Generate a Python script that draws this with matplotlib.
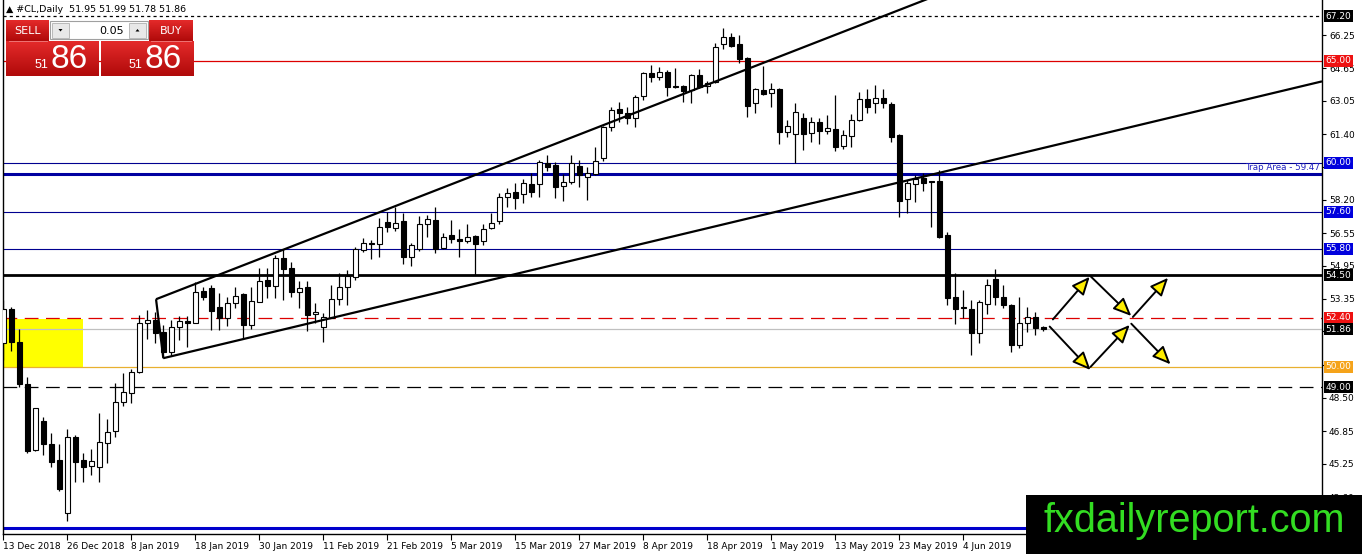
import numpy as np
import matplotlib.pyplot as plt
import matplotlib.transforms as mtransforms
from matplotlib.patches import Rectangle, FancyArrowPatch, Polygon
from matplotlib.colors import LinearSegmentedColormap

# Daily candles (bar index 0 = 13 Dec 2018)
opens = [51.18, 52.83, 51.21, 49.15, 45.93, 47.35, 46.21, 45.44, 42.83, 46.59,
         45.44, 45.16, 45.08, 46.26, 46.88, 48.27, 48.71, 49.74, 52.14, 52.30,
         51.70, 50.75, 51.98, 52.27, 52.17, 53.73, 53.86, 52.93, 52.42, 53.15,
         53.58, 52.06, 53.20, 54.26, 53.99, 55.33, 54.84, 53.69, 53.91, 52.58,
         51.95, 52.39, 53.32, 53.94, 54.43, 55.74, 56.06, 56.03, 57.12, 56.80,
         57.16, 55.41, 55.77, 57.00, 57.21, 55.82, 56.47, 56.27, 56.19, 56.42,
         56.18, 56.83, 57.16, 58.35, 58.56, 58.47, 58.96, 58.97, 59.99, 59.90,
         58.87, 59.08, 59.87, 59.30, 59.46, 60.23, 61.78, 62.63, 62.47, 62.19,
         63.28, 64.40, 64.20, 64.48, 63.77, 63.77, 63.58, 64.31, 63.77, 63.99,
         65.83, 66.16, 65.83, 65.13, 62.93, 63.58, 63.42, 63.61, 61.53, 61.41,
         62.19, 61.46, 62.02, 61.58, 61.65, 60.83, 61.32, 62.11, 63.12, 62.93,
         63.17, 62.89, 61.37, 58.22, 58.97, 59.25, 59.10, 59.12, 56.47, 53.45,
         52.96, 52.83, 51.65, 53.09, 54.30, 53.45, 53.04, 51.08, 52.17, 52.47,
         51.95]
highs = [53.28, 52.96, 51.85, 49.52, 48.00, 47.53, 46.75, 46.23, 46.94, 46.67,
         45.77, 46.00, 47.73, 47.44, 49.20, 49.72, 49.90, 52.55, 52.79, 52.71,
         52.06, 52.30, 52.50, 52.50, 54.18, 53.94, 54.02, 53.61, 53.43, 53.91,
         53.61, 53.91, 54.87, 54.84, 55.49, 55.77, 55.16, 54.23, 54.23, 53.12,
         52.63, 54.02, 54.59, 54.75, 55.87, 56.31, 56.23, 57.29, 57.61, 57.86,
         57.56, 56.06, 57.40, 57.45, 57.83, 56.59, 57.21, 56.75, 57.00, 56.47,
         57.01, 57.56, 58.51, 58.79, 59.00, 59.20, 59.52, 60.15, 60.39, 60.07,
         59.46, 60.39, 60.15, 59.82, 60.77, 61.81, 62.73, 63.00, 62.73, 63.33,
         64.48, 64.80, 64.69, 64.56, 64.64, 63.82, 64.36, 64.59, 64.04, 65.90,
         66.60, 66.39, 66.27, 65.18, 63.66, 64.75, 63.94, 63.66, 62.11, 62.96,
         62.44, 62.24, 62.19, 62.35, 63.33, 61.62, 62.40, 63.50, 63.61, 63.82,
         63.61, 63.00, 61.42, 59.17, 59.41, 59.52, 59.12, 59.66, 56.63, 54.59,
         53.77, 53.28, 53.28, 54.30, 54.79, 54.02, 53.09, 53.45, 52.96, 52.71,
         51.99]
lows = [50.34, 50.80, 49.00, 45.77, 45.90, 45.69, 45.08, 43.94, 42.47, 44.35,
        44.38, 44.71, 44.35, 45.31, 46.59, 48.09, 48.25, 49.69, 51.36, 51.16,
        50.43, 50.59, 51.32, 50.96, 52.17, 53.28, 51.81, 51.81, 52.00, 52.88,
        51.36, 51.85, 53.20, 53.37, 53.37, 53.28, 53.45, 52.88, 51.78, 52.14,
        51.20, 52.39, 53.04, 53.04, 54.26, 55.65, 55.28, 55.41, 56.63, 56.68,
        55.05, 54.95, 55.70, 56.39, 55.57, 55.77, 56.06, 55.41, 56.06, 54.51,
        55.98, 56.75, 57.01, 57.86, 57.73, 58.02, 58.35, 58.32, 59.62, 58.27,
        58.15, 58.97, 58.81, 58.19, 59.41, 60.11, 61.58, 62.03, 61.91, 61.78,
        63.09, 63.99, 64.07, 63.28, 63.66, 63.00, 62.96, 63.66, 63.42, 63.91,
        65.57, 65.67, 64.89, 62.27, 62.44, 63.33, 62.76, 60.93, 61.29, 59.99,
        60.64, 61.05, 60.93, 61.41, 60.60, 60.67, 60.80, 62.07, 62.44, 62.44,
        62.68, 61.05, 57.37, 57.53, 58.10, 58.64, 56.88, 56.31, 53.04, 52.11,
        52.40, 50.59, 51.16, 52.60, 53.04, 52.88, 50.75, 50.92, 51.73, 51.57,
        51.78]
closes = [52.84, 51.21, 49.15, 45.90, 47.97, 46.21, 45.36, 44.02, 46.55, 45.36,
          45.08, 45.41, 46.31, 46.80, 48.27, 48.76, 49.74, 52.14, 52.30, 51.68,
          50.75, 51.98, 52.27, 52.17, 53.69, 53.45, 52.76, 52.39, 53.12, 53.50,
          52.06, 53.24, 54.22, 53.99, 55.33, 54.80, 53.69, 53.86, 52.55, 52.68,
          52.44, 53.32, 53.94, 54.46, 55.77, 56.06, 56.02, 56.85, 56.85, 57.05,
          55.41, 55.98, 57.00, 57.24, 55.77, 56.39, 56.26, 56.18, 56.39, 56.01,
          56.75, 57.07, 58.35, 58.51, 58.30, 59.00, 58.56, 60.07, 59.82, 58.81,
          59.08, 60.02, 59.41, 59.52, 60.11, 61.75, 62.60, 62.47, 62.19, 63.25,
          64.43, 64.20, 64.45, 63.74, 63.71, 63.54, 64.31, 63.74, 63.94, 65.67,
          66.16, 65.74, 65.08, 62.79, 63.61, 63.38, 63.61, 61.53, 61.83, 62.51,
          61.42, 62.02, 61.58, 61.70, 60.80, 61.37, 62.11, 63.12, 62.73, 63.17,
          62.96, 61.29, 58.15, 59.03, 59.20, 59.03, 59.08, 56.36, 53.37, 52.83,
          52.88, 51.65, 53.17, 54.02, 53.42, 53.04, 51.08, 52.17, 52.47, 51.90,
          51.86]

date_labels = ["13 Dec 2018", "26 Dec 2018", "8 Jan 2019", "18 Jan 2019",
               "30 Jan 2019", "11 Feb 2019", "21 Feb 2019", "5 Mar 2019",
               "15 Mar 2019", "27 Mar 2019", "8 Apr 2019", "18 Apr 2019",
               "1 May 2019", "13 May 2019", "23 May 2019", "4 Jun 2019"]
date_bars = list(range(0, 128, 8))

price_ticks = [66.25, 64.65, 63.05, 61.40, 59.80, 58.20, 56.55, 54.95,
               53.35, 51.75, 50.10, 48.50, 46.85, 45.25, 43.60]
# these scale labels sit behind the price boxes
hidden_ticks = [59.80, 51.75, 50.10]

# Drawn levels: (price, colour, width, style, label, label colour)
levels = [
    (67.20, "black", 0.9, (0, (2.5, 2.5)), "67.20", "black"),
    (65.00, "#dd0000", 0.9, "-", "65.00", "#ee1111"),
    (60.00, "#000090", 0.8, "-", "60.00", "#0000dd"),
    (59.47, "#0000a0", 2.2, "-", None, None),
    (57.60, "#000090", 0.8, "-", "57.60", "#0000dd"),
    (55.80, "#000090", 0.8, "-", "55.80", "#0000dd"),
    (54.50, "black", 2.0, "-", "54.50", "black"),
    (52.40, "#dd0000", 0.9, (0, (11, 6)), "52.40", "#ee1111"),
    (51.86, "#c0c0c0", 0.9, "-", "51.86", "black"),
    (50.00, "#e8b030", 0.9, "-", "50.00", "#f5a31a"),
    (49.00, "black", 0.9, (0, (11, 6)), "49.00", "black"),
    (42.09, "#0000cc", 2.2, "-", None, None),
]

# channel and projection drawings (bar, price)
channel_upper = [(19.09, 53.32), (130.0, 70.25)]
channel_side = [(19.09, 53.32), (20.0, 50.43)]
channel_lower = [(20.0, 50.43), (164.84, 64.0)]
zone = (0.0, 9.92, 49.99, 52.34)
arrows = [((131.2, 52.33), (135.8, 54.42)),
          ((130.8, 51.98), (135.9, 49.85)),
          ((135.9, 54.45), (141.0, 52.50)),
          ((135.9, 50.00), (140.8, 52.06)),
          ((141.2, 52.45), (145.6, 54.37)),
          ((141.0, 52.12), (145.9, 50.13))]

W, H = 1362, 554
fig = plt.figure(figsize=(W / 100, H / 100), dpi=100)
fig.patch.set_facecolor("white")
ax = fig.add_axes([3 / W, 20 / H, 1319 / W, 534 / H])
ax.set_xlim(-0.04, 164.84)
ax.set_ylim(41.81, 67.99)

# yellow zone
ax.add_patch(Rectangle((zone[0], zone[2]), zone[1] - zone[0], zone[3] - zone[2],
                       fc="#ffff00", ec="none", zorder=0.5))

for price, col, lw, ls, lab, lcol in levels:
    ax.axhline(price, color=col, lw=lw, ls=ls, zorder=1)

ax.text(164.6, 59.55, "Trap Area - 59.47", color="#2020c0", fontsize=6.3,
        ha="right", va="bottom", zorder=2)

# candles
x = np.arange(len(opens))
o = np.array(opens); c = np.array(closes)
ax.vlines(x, lows, highs, color="black", lw=0.9, zorder=2)
up = c >= o
bw = 0.6
ax.bar(x[up], np.maximum(c[up] - o[up], 0.02), bottom=o[up], width=bw,
       color="white", edgecolor="black", lw=0.8, zorder=3)
ax.bar(x[~up], np.maximum(o[~up] - c[~up], 0.02), bottom=c[~up], width=bw,
       color="black", edgecolor="black", lw=0.8, zorder=3)

# channel
for seg in (channel_upper, channel_side, channel_lower):
    ax.plot([p[0] for p in seg], [p[1] for p in seg], color="black", lw=1.6,
            zorder=4, solid_capstyle="butt")

for a, b in arrows:
    ax.add_patch(FancyArrowPatch(a, b, arrowstyle="-|>,head_length=0.55,head_width=0.24",
                                 mutation_scale=20, fc="#ffee00", ec="black", lw=1.4,
                                 shrinkA=0, shrinkB=0, zorder=5))

# axes styling
ax.spines["top"].set_visible(False)
for s in ("left", "right", "bottom"):
    ax.spines[s].set_linewidth(1.0)
ax.yaxis.tick_right()
ax.set_yticks(price_ticks, ["" if v in hidden_ticks else f"{v:.2f}" for v in price_ticks])
ax.tick_params(axis="y", direction="out", length=3, width=0.8, labelsize=6.5, pad=2)
ax.set_xticks(date_bars, date_labels, ha="left")
ax.tick_params(axis="x", direction="out", length=4, width=0.8, labelsize=6.5, pad=2)

blend = mtransforms.blended_transform_factory(ax.transAxes, ax.transData)
for price, col, lw, ls, lab, lcol in levels:
    if lab:
        ax.text(1.0025, price, lab, transform=blend, color="white", fontsize=6.5,
                ha="left", va="center", clip_on=False, zorder=6,
                bbox=dict(boxstyle="square,pad=0.18", fc=lcol, ec="none"))

# overlay in pixel coordinates
ov = fig.add_axes([0, 0, 1, 1], zorder=10)
ov.set_xlim(0, W); ov.set_ylim(H, 0); ov.axis("off"); ov.patch.set_alpha(0)

ov.text(6, 10, "\u25b2 #CL,Daily  51.95 51.99 51.78 51.86", fontsize=6.8,
        va="center", ha="left", color="black")

grad = np.linspace(0, 1, 50).reshape(-1, 1)
reds = LinearSegmentedColormap.from_list("r", ["#e42a2a", "#b00a0a"])
for (x0, x1, y0, y1) in [(6, 49, 21, 41.5), (149, 193, 21, 41.5),
                         (6, 99, 41.5, 76), (100.5, 193, 41.5, 76)]:
    ov.imshow(grad, cmap=reds, extent=[x0, x1, y1, y0], aspect="auto", zorder=1)
ov.plot([9, 47], [40.5, 40.5], color="#f08080", lw=0.6, zorder=2)
ov.plot([151, 191], [40.5, 40.5], color="#f08080", lw=0.6, zorder=2)
ov.text(27.5, 31, "SELL", color="white", fontsize=8, ha="center", va="center", zorder=3)
ov.text(171, 31, "BUY", color="white", fontsize=8, ha="center", va="center", zorder=3)
ov.add_patch(Rectangle((50, 21), 98, 18, fc="white", ec="#a0a0a0", lw=0.8, zorder=2))
ov.add_patch(Rectangle((52, 22.5), 17, 15, fc="#e8e8e8", ec="#b0b0b0", lw=0.6, zorder=3))
ov.add_patch(Rectangle((129, 22.5), 17, 15, fc="#e8e8e8", ec="#b0b0b0", lw=0.6, zorder=3))
ov.add_patch(Polygon([(58.5, 29), (62.5, 29), (60.5, 31.5)], fc="black", zorder=4))
ov.add_patch(Polygon([(135.5, 31.5), (139.5, 31.5), (137.5, 29)], fc="black", zorder=4))
ov.text(124, 30.5, "0.05", fontsize=8, ha="right", va="center", zorder=3)
for xs, xb in [(41, 51), (135.5, 145)]:
    ov.text(xs, 65.5, "51", color="white", fontsize=9, family="Liberation Sans",
            ha="center", va="center", zorder=3)
    ov.text(xb, 60, "86", color="white", fontsize=24, family="Liberation Sans",
            ha="left", va="center", zorder=3)

ov.add_patch(Rectangle((1026, 495), W - 1026, H - 495, fc="black", ec="none", zorder=1))
ov.text(1194, 521, "fxdailyreport.com", color="#33dd22", fontsize=28.5,
        family="Liberation Sans", ha="center", va="center", zorder=2)

fig.savefig("out.png", dpi=100)
